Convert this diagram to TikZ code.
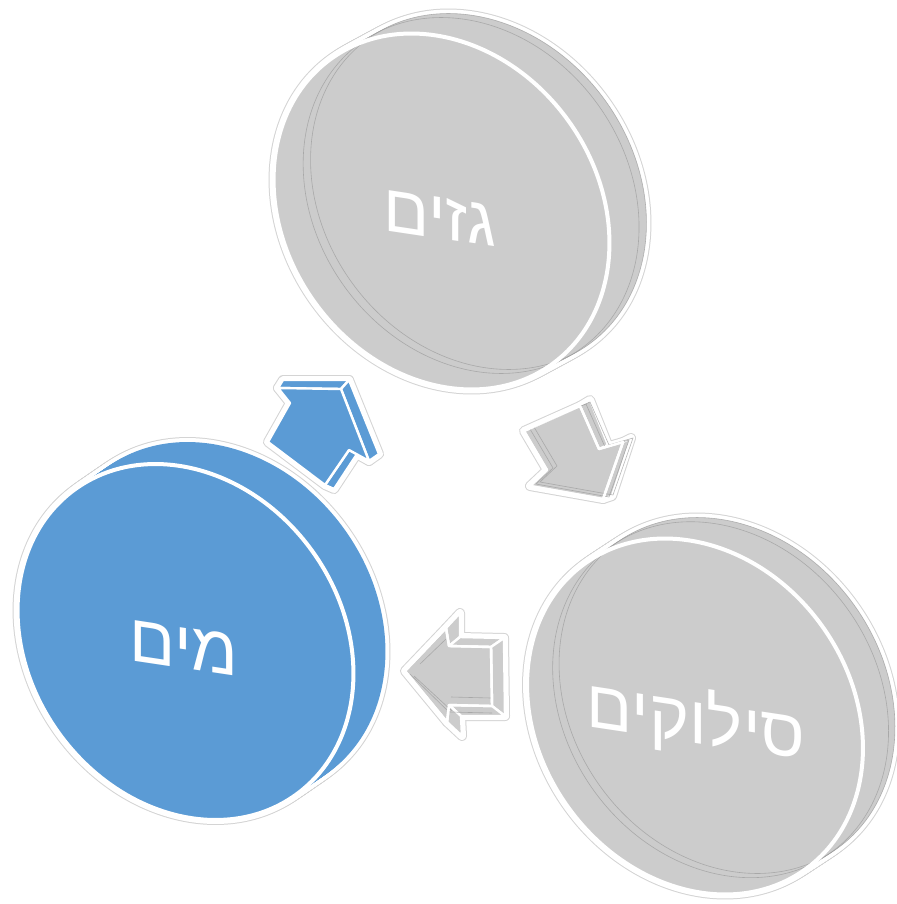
\documentclass[tikz,border=0pt]{standalone}
\usepackage{fontspec}
\newfontfamily\hebfont[Script=Hebrew]{Liberation Sans}
\TeXXeTstate=1
\definecolor{discgray}{HTML}{CCCCCC}
\definecolor{discblue}{HTML}{5B9BD5}
\definecolor{glowc}{HTML}{D4D4D4}
\definecolor{hidc}{HTML}{9A9A9A}
\tikzset{
 glowline/.style={draw=glowc,line width=5pt,line join=round},
 whiteline/.style={draw=white,line width=4pt,line join=round},
 facegray/.style={fill=discgray,draw=white,line width=1.2pt,line join=round},
 faceblue/.style={fill=discblue,draw=white,line width=1.2pt,line join=round},
 hidline/.style={draw=hidc,line width=0.3pt,opacity=0.7},
 frontedge/.style={draw=white,line width=1.2pt,line join=round},
 disclabel/.style={text=white,font=\hebfont\fontsize{34}{38}\selectfont,inner sep=0pt,yslant=-0.15},
}
\newcommand\discell[3]{\path[#3,shift={(#1,#2)},rotate=-54] (0,0) ellipse [x radius=188.5,y radius=156];}
% #1 cx, #2 cy, #3 colour, #4 hidden lines (0/1), #5 dx, #6 dy of the back face
\newcommand\drawdisc[6]{%
 \foreach \t in {0,...,20}{\discell{#1+#5*\t/20}{#2+#6*\t/20}{glowline}}
 \foreach \t in {0,...,20}{\discell{#1+#5*\t/20}{#2+#6*\t/20}{whiteline}}
 \foreach \t in {0,...,20}{\discell{#1+#5*\t/20}{#2+#6*\t/20}{fill=#3}}
 \ifnum#4=1
  \discell{#1+#5}{#2+#6}{hidline}
  \discell{#1+0.8*#5}{#2+0.8*#6}{hidline}
 \fi
 \discell{#1}{#2}{draw=white,line width=2pt}
}
\newcommand\bluearrow[2]{%
 \path[#1] (278,388)--(283,380)--(349,380)--(341,389)--cycle;
 \path[#1] (341,389)--(349,380)--(379,454)--(369,461)--cycle;
 \path[#1] (349,450)--(357,454)--(334,489)--(325,485)--cycle;
 \path[#2] (278,388)--(341,389)--(369,461)--(349,450)--(325,485)--(268,442)--(290,403)--cycle;
}
\newcommand\grayarrowA[2]{%
 \path[#1] (580,406)--(590,400)--(608,445)--(599,449)--cycle;
 \path[#1] (623,442)--(631,438)--(612,496)--(603,499)--cycle;
 \path[#2] (524,431)--(580,406)--(599,449)--(623,442)--(603,499)--(530,486)--(547,470)--cycle;
}
\newcommand\grayarrowB[2]{%
 \path[#1] (446,628)--(460,613)--(460,637)--(449,646)--cycle;
 \path[#1] (449,646)--(460,637)--(504,638)--(491,647)--cycle;
 \path[#1] (491,647)--(504,638)--(505,716)--(492,706)--cycle;
 \path[#1] (449,705)--(492,706)--(505,716)--(461,716)--cycle;
 \path[#1] (449,705)--(461,716)--(462,736)--(447,722)--cycle;
 \path[#2] (405,671)--(446,628)--(449,646)--(491,647)--(492,706)--(449,705)--(447,722)--cycle;
}
\begin{document}
\begin{tikzpicture}[x=0.5pt,y=-0.5pt]
\useasboundingbox (0,0) rectangle (897,904);
\fill[white] (0,0) rectangle (897,904);
% arrows: outline passes
\bluearrow{glowline}{glowline}
\grayarrowA{glowline}{glowline}
\grayarrowB{glowline}{glowline}
\bluearrow{whiteline}{whiteline}
\grayarrowA{whiteline}{whiteline}
\grayarrowB{whiteline}{whiteline}
% arrows: faces
\bluearrow{faceblue}{faceblue}
\grayarrowA{facegray}{facegray}
\grayarrowB{facegray}{facegray}
% faint hidden edges of the gray arrows
\path[hidline,shift={(10,-4)}] (524,431)--(580,406)--(599,449)--(623,442)--(603,499)--(530,486)--(547,470)--cycle;
\path[hidline,shift={(6,-2)}] (524,431)--(580,406)--(599,449)--(623,442)--(603,499)--(530,486)--(547,470)--cycle;
\path[hidline] (410,674)--(449,712)--(492,713);
\path[hidline] (414,676)--(452,711);
\path[hidline] (420,664)--(446,639);
\path[hidline] (451,697)--(491,698);
\path[frontedge] (524,431)--(580,406)--(599,449)--(623,442)--(603,499)--(530,486)--(547,470)--cycle;
\path[frontedge] (405,671)--(446,628)--(449,646)--(491,647)--(492,706)--(449,705)--(447,722)--cycle;
% discs
\drawdisc{441.5}{211.5}{discgray}{1}{37}{-20}
\drawdisc{695}{716.5}{discgray}{1}{32}{-21}
\drawdisc{185.5}{642}{discblue}{0}{32}{-22}
% labels
\node[disclabel] (gas) at (440,218) {\beginR גזים\endR};
\node[disclabel] (water) at (184,648) {\beginR מים\endR};
\node[disclabel] (removal) at (696,722) {\beginR סילוקים\endR};
\end{tikzpicture}
\end{document}
